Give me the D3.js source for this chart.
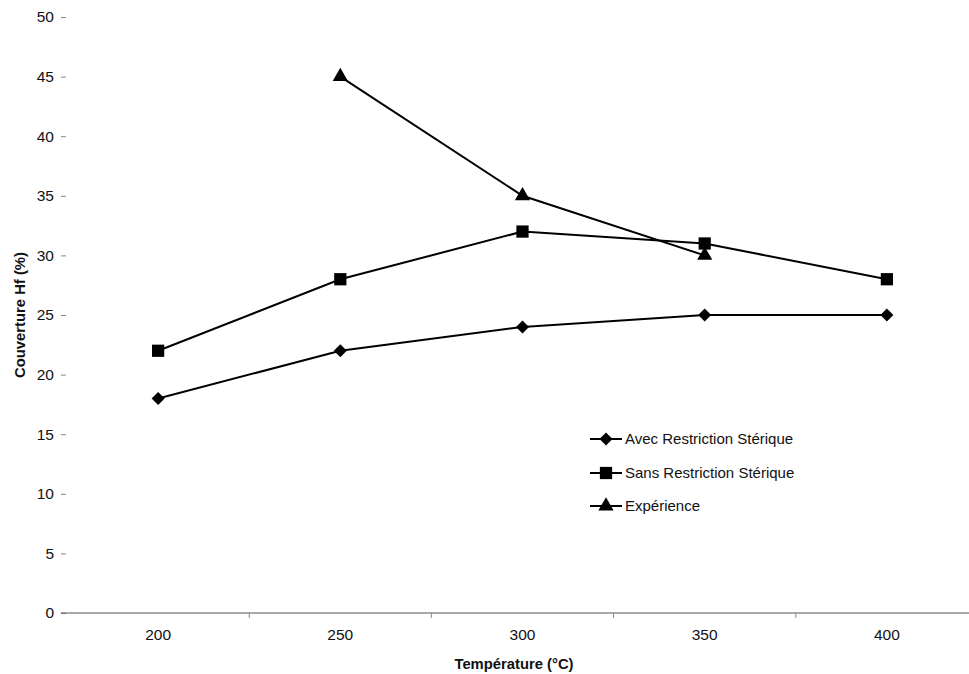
<!DOCTYPE html>
<html><head><meta charset="utf-8">
<script src="https://cdn.jsdelivr.net/npm/d3@7"></script>
<style>body{margin:0;background:#fff}svg{display:block;font-family:"Liberation Sans",Arial,sans-serif}</style>
</head><body><svg id="c" width="969" height="674"></svg>
<script>
const categories = ["200","250","300","350","400"];
const avec = [18, 22, 24, 25, 25];
const sans = [22, 28, 32, 31, 28];
const experience = [null, 45, 35, 30, null];
const yTicks = [0,5,10,15,20,25,30,35,40,45,50];
const seriesNames = ["Avec Restriction Stérique","Sans Restriction Stérique","Expérience"];

const svg = d3.select("#c");
const x = d3.scaleBand().domain(categories).range([67, 978]);
const y = d3.scaleLinear().domain([0,50]).range([613, 17]);
const cx = d => x(d) + x.bandwidth()/2;

// y axis ticks (no line)
const ya = svg.append("g").attr("transform","translate(66,0)")
  .call(d3.axisLeft(y).tickValues(yTicks).tickSize(5).tickPadding(7));
ya.select(".domain").remove();
ya.selectAll("line").attr("stroke","#888");
ya.selectAll("text").attr("font-size","15.5px").attr("fill","#111").attr("font-family","Liberation Sans, Arial, sans-serif");

// x axis
svg.append("line").attr("x1",61).attr("x2",978).attr("y1",y(0)).attr("y2",y(0)).attr("stroke","#555").attr("stroke-width",1.2);
const bounds = categories.slice(1).map(c => x(c));
svg.selectAll(".xt").data(bounds).enter().append("line")
  .attr("x1",d=>d).attr("x2",d=>d).attr("y1",y(0)).attr("y2",y(0)+5).attr("stroke","#888");
svg.selectAll(".xl").data(categories).enter().append("text")
  .attr("x",d=>cx(d)).attr("y",640).attr("text-anchor","middle")
  .attr("font-size","15.5px").attr("fill","#111").text(d=>d);

// axis titles
svg.append("text").attr("x",514).attr("y",669).attr("text-anchor","middle")
  .attr("font-size","14.8px").attr("font-weight","bold").attr("fill","#111").text("Température (°C)");
svg.append("text").attr("transform","translate(25,315) rotate(-90)").attr("text-anchor","middle")
  .attr("font-size","14.8px").attr("font-weight","bold").attr("fill","#111").text("Couverture Hf (%)");

const line = d3.line().defined(d=>d.v!=null).x(d=>cx(d.c)).y(d=>y(d.v));
const allSeries = [avec, sans, experience];

function marker(g, i, px, py){
  let d;
  if (i===0) d = "M0,-6.5L6.5,0L0,6.5L-6.5,0Z";
  else if (i===1) d = d3.symbol(d3.symbolSquare, 150)();
  else d = d3.symbol(d3.symbolTriangle, 100)();
  g.append("path").attr("d", d).attr("transform",`translate(${px},${py})`).attr("fill","#000");
}

allSeries.forEach((vals,i)=>{
  const pts = categories.map((c,j)=>({c, v: vals[j]}));
  svg.append("path").datum(pts).attr("d",line).attr("fill","none").attr("stroke","#000").attr("stroke-width",2);
  const g = svg.append("g");
  pts.filter(p=>p.v!=null).forEach(p=>marker(g,i,cx(p.c),y(p.v)));
});

// legend
const legY = [439, 473, 506];
seriesNames.forEach((n,i)=>{
  const g = svg.append("g");
  g.append("line").attr("x1",590).attr("x2",622).attr("y1",legY[i]).attr("y2",legY[i]).attr("stroke","#000").attr("stroke-width",2);
  marker(g,i,606,legY[i]);
  g.append("text").attr("x",625).attr("y",legY[i]+5).attr("font-size","15px").attr("fill","#111").text(n);
});
</script></body></html>
